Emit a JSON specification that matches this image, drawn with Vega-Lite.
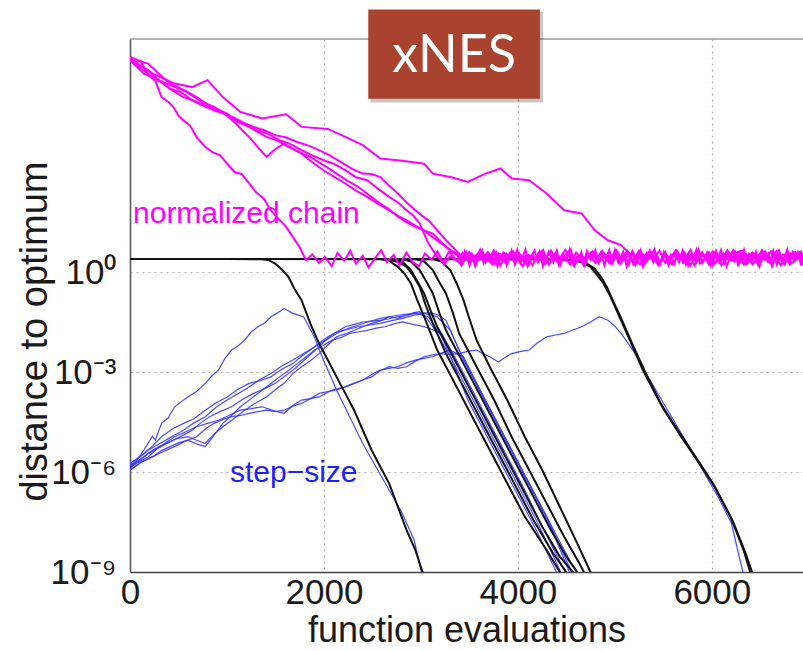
{
"$schema": "https://vega.github.io/schema/vega-lite/v6.json",
"width": 673, "height": 533,
"autosize": {"type": "none"},
"padding": {"left": 130, "top": 39, "right": 0, "bottom": 79},
"background": "white",
"config": {"view": {"stroke": null}, "axis": {"labelFont": "Liberation Sans", "titleFont": "Liberation Sans"}},
"datasets": {
"blu": [
{"s":"b1","x":0,"y":1.45e-6},{"s":"b1","x":70,"y":2.2e-6},{"s":"b1","x":144,"y":4.6e-6},{"s":"b1","x":230,"y":1.2e-5},{"s":"b1","x":260,"y":9e-6},{"s":"b1","x":325,"y":2.9e-5},{"s":"b1","x":392,"y":4.2e-5},{"s":"b1","x":460,"y":9.1e-5},{"s":"b1","x":530,"y":1.3e-4},{"s":"b1","x":596,"y":1.8e-4},{"s":"b1","x":686,"y":2.6e-4},{"s":"b1","x":776,"y":4.6e-4},{"s":"b1","x":840,"y":7.5e-4},{"s":"b1","x":912,"y":1.15e-3},{"s":"b1","x":980,"y":2.6e-3},{"s":"b1","x":1047,"y":4.6e-3},{"s":"b1","x":1110,"y":6e-3},{"s":"b1","x":1182,"y":9.1e-3},{"s":"b1","x":1250,"y":0.016},{"s":"b1","x":1318,"y":0.023},{"s":"b1","x":1390,"y":0.03},{"s":"b1","x":1453,"y":0.046},{"s":"b1","x":1520,"y":0.06},{"s":"b1","x":1589,"y":0.081},{"s":"b1","x":1630,"y":0.07},{"s":"b1","x":1679,"y":0.058},{"s":"b1","x":1790,"y":0.046},{"s":"b1","x":1900,"y":0.0115},{"s":"b1","x":1995,"y":2.3e-3},{"s":"b1","x":2130,"y":2.9e-4},{"s":"b1","x":2265,"y":4.6e-5},{"s":"b1","x":2400,"y":7.2e-6},{"s":"b1","x":2536,"y":1.45e-6},{"s":"b1","x":2672,"y":2.9e-7},{"s":"b1","x":2807,"y":5.8e-8},{"s":"b1","x":2930,"y":9.1e-9},{"s":"b1","x":3000,"y":1.15e-9},{"s":"b1","x":3033,"y":5.8e-10},
{"s":"b2","x":0,"y":1.8e-6},{"s":"b2","x":144,"y":3.6e-6},{"s":"b2","x":230,"y":6e-6},{"s":"b2","x":325,"y":1.15e-5},{"s":"b2","x":440,"y":2.0e-5},{"s":"b2","x":551,"y":2.9e-5},{"s":"b2","x":660,"y":4.0e-5},{"s":"b2","x":776,"y":7.2e-5},{"s":"b2","x":890,"y":1.2e-4},{"s":"b2","x":1002,"y":1.8e-4},{"s":"b2","x":1110,"y":3.0e-4},{"s":"b2","x":1228,"y":4.6e-4},{"s":"b2","x":1340,"y":5.5e-4},{"s":"b2","x":1453,"y":7.2e-4},{"s":"b2","x":1560,"y":1.2e-3},{"s":"b2","x":1679,"y":1.8e-3},{"s":"b2","x":1770,"y":3.0e-3},{"s":"b2","x":1859,"y":4.6e-3},{"s":"b2","x":1950,"y":7.5e-3},{"s":"b2","x":2040,"y":0.0115},{"s":"b2","x":2130,"y":0.016},{"s":"b2","x":2220,"y":0.023},{"s":"b2","x":2311,"y":0.027},{"s":"b2","x":2401,"y":0.032},{"s":"b2","x":2491,"y":0.034},{"s":"b2","x":2581,"y":0.036},{"s":"b2","x":2672,"y":0.04},{"s":"b2","x":2762,"y":0.046},{"s":"b2","x":2852,"y":0.05},{"s":"b2","x":2942,"y":0.058},{"s":"b2","x":3078,"y":0.046},{"s":"b2","x":3213,"y":0.0115},{"s":"b2","x":3349,"y":1.45e-3},{"s":"b2","x":3484,"y":1.45e-4},{"s":"b2","x":3665,"y":1.45e-5},{"s":"b2","x":3845,"y":1.45e-6},{"s":"b2","x":4026,"y":1.45e-7},{"s":"b2","x":4206,"y":1.45e-8},{"s":"b2","x":4387,"y":1.15e-9},{"s":"b2","x":4420,"y":7e-10},
{"s":"b3","x":0,"y":1.45e-6},{"s":"b3","x":190,"y":2.9e-6},{"s":"b3","x":280,"y":5e-6},{"s":"b3","x":370,"y":7.2e-6},{"s":"b3","x":480,"y":1.0e-5},{"s":"b3","x":596,"y":1.15e-5},{"s":"b3","x":686,"y":9e-6},{"s":"b3","x":776,"y":7.2e-6},{"s":"b3","x":870,"y":1.4e-5},{"s":"b3","x":957,"y":2.3e-5},{"s":"b3","x":1070,"y":4.0e-5},{"s":"b3","x":1182,"y":7.2e-5},{"s":"b3","x":1300,"y":1.2e-4},{"s":"b3","x":1408,"y":1.8e-4},{"s":"b3","x":1500,"y":3.0e-4},{"s":"b3","x":1589,"y":4.6e-4},{"s":"b3","x":1680,"y":9e-4},{"s":"b3","x":1769,"y":1.45e-3},{"s":"b3","x":1860,"y":2.2e-3},{"s":"b3","x":1950,"y":3.6e-3},{"s":"b3","x":2040,"y":6.5e-3},{"s":"b3","x":2130,"y":0.0115},{"s":"b3","x":2220,"y":0.014},{"s":"b3","x":2311,"y":0.018},{"s":"b3","x":2400,"y":0.023},{"s":"b3","x":2491,"y":0.029},{"s":"b3","x":2580,"y":0.034},{"s":"b3","x":2672,"y":0.046},{"s":"b3","x":2760,"y":0.042},{"s":"b3","x":2852,"y":0.051},{"s":"b3","x":2920,"y":0.06},{"s":"b3","x":2988,"y":0.065},{"s":"b3","x":3050,"y":0.045},{"s":"b3","x":3123,"y":0.023},{"s":"b3","x":3303,"y":2.9e-3},{"s":"b3","x":3484,"y":2.9e-4},{"s":"b3","x":3665,"y":2.9e-5},{"s":"b3","x":3845,"y":2.9e-6},{"s":"b3","x":4026,"y":2.9e-7},{"s":"b3","x":4206,"y":2.9e-8},{"s":"b3","x":4432,"y":1.15e-9},{"s":"b3","x":4460,"y":7e-10},
{"s":"b4","x":0,"y":1.15e-6},{"s":"b4","x":120,"y":2.0e-6},{"s":"b4","x":235,"y":2.9e-6},{"s":"b4","x":325,"y":4.4e-6},{"s":"b4","x":415,"y":5.8e-6},{"s":"b4","x":500,"y":7.5e-6},{"s":"b4","x":596,"y":9.1e-6},{"s":"b4","x":686,"y":7e-6},{"s":"b4","x":776,"y":5.8e-6},{"s":"b4","x":870,"y":1.3e-5},{"s":"b4","x":957,"y":2.9e-5},{"s":"b4","x":1047,"y":5e-5},{"s":"b4","x":1137,"y":9.1e-5},{"s":"b4","x":1250,"y":1.6e-4},{"s":"b4","x":1363,"y":2.9e-4},{"s":"b4","x":1450,"y":4.5e-4},{"s":"b4","x":1543,"y":7.2e-4},{"s":"b4","x":1630,"y":1.1e-3},{"s":"b4","x":1724,"y":1.8e-3},{"s":"b4","x":1810,"y":2.8e-3},{"s":"b4","x":1905,"y":4.6e-3},{"s":"b4","x":2000,"y":6.5e-3},{"s":"b4","x":2085,"y":9.1e-3},{"s":"b4","x":2180,"y":0.011},{"s":"b4","x":2266,"y":0.0145},{"s":"b4","x":2350,"y":0.016},{"s":"b4","x":2446,"y":0.018},{"s":"b4","x":2540,"y":0.021},{"s":"b4","x":2627,"y":0.023},{"s":"b4","x":2720,"y":0.028},{"s":"b4","x":2807,"y":0.032},{"s":"b4","x":2920,"y":0.027},{"s":"b4","x":3033,"y":0.023},{"s":"b4","x":3120,"y":0.019},{"s":"b4","x":3213,"y":0.0145},{"s":"b4","x":3349,"y":2.9e-3},{"s":"b4","x":3529,"y":2.9e-4},{"s":"b4","x":3710,"y":2.9e-5},{"s":"b4","x":3890,"y":2.9e-6},{"s":"b4","x":4071,"y":2.9e-7},{"s":"b4","x":4251,"y":2.3e-8},{"s":"b4","x":4477,"y":1.15e-9},{"s":"b4","x":4500,"y":7e-10},
{"s":"b5","x":0,"y":1.45e-6},{"s":"b5","x":120,"y":2.6e-6},{"s":"b5","x":235,"y":4.6e-6},{"s":"b5","x":350,"y":7e-6},{"s":"b5","x":460,"y":1.15e-5},{"s":"b5","x":570,"y":1.6e-5},{"s":"b5","x":686,"y":2.3e-5},{"s":"b5","x":800,"y":2.9e-5},{"s":"b5","x":912,"y":3.6e-5},{"s":"b5","x":1020,"y":5.0e-5},{"s":"b5","x":1137,"y":7.2e-5},{"s":"b5","x":1250,"y":8.0e-5},{"s":"b5","x":1363,"y":9.1e-5},{"s":"b5","x":1480,"y":7.0e-5},{"s":"b5","x":1589,"y":5.8e-5},{"s":"b5","x":1680,"y":1.0e-4},{"s":"b5","x":1769,"y":1.45e-4},{"s":"b5","x":1860,"y":1.6e-4},{"s":"b5","x":1950,"y":1.8e-4},{"s":"b5","x":2085,"y":2.9e-4},{"s":"b5","x":2220,"y":3.6e-4},{"s":"b5","x":2311,"y":4.6e-4},{"s":"b5","x":2401,"y":5.8e-4},{"s":"b5","x":2491,"y":8.5e-4},{"s":"b5","x":2581,"y":1.15e-3},{"s":"b5","x":2672,"y":1.3e-3},{"s":"b5","x":2762,"y":1.45e-3},{"s":"b5","x":2850,"y":1.9e-3},{"s":"b5","x":2942,"y":2.3e-3},{"s":"b5","x":3030,"y":2.6e-3},{"s":"b5","x":3123,"y":2.9e-3},{"s":"b5","x":3213,"y":3.8e-3},{"s":"b5","x":3303,"y":4.6e-3},{"s":"b5","x":3370,"y":3.6e-3},{"s":"b5","x":3439,"y":2.9e-3},{"s":"b5","x":3574,"y":4.6e-4},{"s":"b5","x":3755,"y":4.6e-5},{"s":"b5","x":3935,"y":4.6e-6},{"s":"b5","x":4116,"y":4.6e-7},{"s":"b5","x":4296,"y":4.6e-8},{"s":"b5","x":4522,"y":1.15e-9},{"s":"b5","x":4550,"y":7e-10},
{"s":"b6","x":0,"y":1.15e-6},{"s":"b6","x":120,"y":2.0e-6},{"s":"b6","x":235,"y":2.9e-6},{"s":"b6","x":350,"y":4.2e-6},{"s":"b6","x":460,"y":5.8e-6},{"s":"b6","x":570,"y":8.5e-6},{"s":"b6","x":686,"y":1.15e-5},{"s":"b6","x":780,"y":2.0e-5},{"s":"b6","x":866,"y":2.9e-5},{"s":"b6","x":960,"y":3.8e-5},{"s":"b6","x":1047,"y":4.6e-5},{"s":"b6","x":1140,"y":5.0e-5},{"s":"b6","x":1228,"y":5.8e-5},{"s":"b6","x":1320,"y":6.5e-5},{"s":"b6","x":1408,"y":7.2e-5},{"s":"b6","x":1500,"y":6.5e-5},{"s":"b6","x":1589,"y":7.2e-5},{"s":"b6","x":1680,"y":9.5e-5},{"s":"b6","x":1769,"y":1.15e-4},{"s":"b6","x":1860,"y":1.6e-4},{"s":"b6","x":1950,"y":2.3e-4},{"s":"b6","x":2040,"y":2.6e-4},{"s":"b6","x":2130,"y":2.9e-4},{"s":"b6","x":2220,"y":3.6e-4},{"s":"b6","x":2311,"y":4.6e-4},{"s":"b6","x":2400,"y":5.8e-4},{"s":"b6","x":2491,"y":7.2e-4},{"s":"b6","x":2580,"y":1.1e-3},{"s":"b6","x":2672,"y":1.45e-3},{"s":"b6","x":2760,"y":1.3e-3},{"s":"b6","x":2852,"y":1.45e-3},{"s":"b6","x":2940,"y":2.1e-3},{"s":"b6","x":3033,"y":2.9e-3},{"s":"b6","x":3120,"y":3.3e-3},{"s":"b6","x":3213,"y":3.6e-3},{"s":"b6","x":3300,"y":3.4e-3},{"s":"b6","x":3394,"y":3.6e-3},{"s":"b6","x":3480,"y":4.2e-3},{"s":"b6","x":3574,"y":4.6e-3},{"s":"b6","x":3640,"y":3.6e-3},{"s":"b6","x":3710,"y":2.9e-3},{"s":"b6","x":3800,"y":2.0e-3},{"s":"b6","x":3870,"y":2.8e-3},{"s":"b6","x":3935,"y":3.6e-3},{"s":"b6","x":4030,"y":4.2e-3},{"s":"b6","x":4116,"y":4.6e-3},{"s":"b6","x":4200,"y":7.5e-3},{"s":"b6","x":4296,"y":0.0115},{"s":"b6","x":4390,"y":0.013},{"s":"b6","x":4477,"y":0.0145},{"s":"b6","x":4560,"y":0.018},{"s":"b6","x":4657,"y":0.023},{"s":"b6","x":4750,"y":0.032},{"s":"b6","x":4838,"y":0.046},{"s":"b6","x":4928,"y":0.036},{"s":"b6","x":5000,"y":0.024},{"s":"b6","x":5064,"y":0.0145},{"s":"b6","x":5199,"y":4e-3},{"s":"b6","x":5334,"y":8e-4},{"s":"b6","x":5515,"y":1e-4},{"s":"b6","x":5695,"y":1.3e-5},{"s":"b6","x":5876,"y":1.6e-6},{"s":"b6","x":6056,"y":2e-7},{"s":"b6","x":6200,"y":3e-8},{"s":"b6","x":6320,"y":1e-9},{"s":"b6","x":6345,"y":5e-10},
{"s":"b7","x":0,"y":1.6e-6},{"s":"b7","x":100,"y":2.8e-6},{"s":"b7","x":190,"y":4.6e-6},{"s":"b7","x":280,"y":6.5e-6},{"s":"b7","x":370,"y":9.1e-6},{"s":"b7","x":460,"y":1.3e-5},{"s":"b7","x":551,"y":1.8e-5},{"s":"b7","x":660,"y":3.0e-5},{"s":"b7","x":776,"y":4.6e-5},{"s":"b7","x":890,"y":9e-5},{"s":"b7","x":1002,"y":1.45e-4},{"s":"b7","x":1110,"y":2.2e-4},{"s":"b7","x":1228,"y":3.6e-4},{"s":"b7","x":1340,"y":6e-4},{"s":"b7","x":1453,"y":9.1e-4},{"s":"b7","x":1560,"y":1.5e-3},{"s":"b7","x":1679,"y":2.3e-3},{"s":"b7","x":1790,"y":3.6e-3},{"s":"b7","x":1905,"y":5.8e-3},{"s":"b7","x":2020,"y":9e-3},{"s":"b7","x":2130,"y":0.0145},{"s":"b7","x":2240,"y":0.02},{"s":"b7","x":2356,"y":0.026},{"s":"b7","x":2470,"y":0.033},{"s":"b7","x":2581,"y":0.041},{"s":"b7","x":2672,"y":0.046},{"s":"b7","x":2762,"y":0.051},{"s":"b7","x":2852,"y":0.055},{"s":"b7","x":2942,"y":0.058},{"s":"b7","x":3030,"y":0.06},{"s":"b7","x":3123,"y":0.058},{"s":"b7","x":3190,"y":0.05},{"s":"b7","x":3258,"y":0.036},{"s":"b7","x":3394,"y":4.6e-3},{"s":"b7","x":3574,"y":4.6e-4},{"s":"b7","x":3755,"y":4.6e-5},{"s":"b7","x":3935,"y":4.6e-6},{"s":"b7","x":4116,"y":4.6e-7},{"s":"b7","x":4296,"y":4.6e-8},{"s":"b7","x":4477,"y":4.6e-9},{"s":"b7","x":4590,"y":1.15e-9},{"s":"b7","x":4620,"y":7e-10},
{"s":"b8","x":0,"y":1.3e-6},{"s":"b8","x":190,"y":3.6e-6},{"s":"b8","x":300,"y":5.5e-6},{"s":"b8","x":415,"y":8.1e-6},{"s":"b8","x":530,"y":1.2e-5},{"s":"b8","x":641,"y":1.8e-5},{"s":"b8","x":730,"y":3.0e-5},{"s":"b8","x":821,"y":4.6e-5},{"s":"b8","x":930,"y":6.5e-5},{"s":"b8","x":1047,"y":9.1e-5},{"s":"b8","x":1160,"y":1.5e-4},{"s":"b8","x":1273,"y":2.3e-4},{"s":"b8","x":1390,"y":3.2e-4},{"s":"b8","x":1498,"y":4.6e-4},{"s":"b8","x":1610,"y":8e-4},{"s":"b8","x":1724,"y":1.45e-3},{"s":"b8","x":1840,"y":3e-3},{"s":"b8","x":1950,"y":5.8e-3},{"s":"b8","x":2040,"y":0.0105},{"s":"b8","x":2130,"y":0.016},{"s":"b8","x":2240,"y":0.019},{"s":"b8","x":2356,"y":0.023},{"s":"b8","x":2470,"y":0.026},{"s":"b8","x":2581,"y":0.029},{"s":"b8","x":2700,"y":0.035},{"s":"b8","x":2807,"y":0.041},{"s":"b8","x":2920,"y":0.05},{"s":"b8","x":3033,"y":0.058},{"s":"b8","x":3100,"y":0.052},{"s":"b8","x":3168,"y":0.046},{"s":"b8","x":3303,"y":0.018},{"s":"b8","x":3439,"y":2.3e-3},{"s":"b8","x":3620,"y":2.3e-4},{"s":"b8","x":3800,"y":2.3e-5},{"s":"b8","x":3980,"y":2.3e-6},{"s":"b8","x":4161,"y":2.3e-7},{"s":"b8","x":4341,"y":2.3e-8},{"s":"b8","x":4545,"y":1.15e-9},{"s":"b8","x":4570,"y":7e-10}
],
"blk": [
{"s":"k1","x":0,"y":2.5},{"s":"k1","x":1000,"y":2.5},{"s":"k1","x":1363,"y":2.45},{"s":"k1","x":1430,"y":2.3},{"s":"k1","x":1498,"y":1.8},{"s":"k1","x":1566,"y":1.2},{"s":"k1","x":1634,"y":0.72},{"s":"k1","x":1700,"y":0.3},{"s":"k1","x":1769,"y":0.145},{"s":"k1","x":1859,"y":0.029},{"s":"k1","x":1950,"y":7.2e-3},{"s":"k1","x":2040,"y":2.3e-3},{"s":"k1","x":2130,"y":7.2e-4},{"s":"k1","x":2220,"y":2.3e-4},{"s":"k1","x":2311,"y":7.2e-5},{"s":"k1","x":2401,"y":1.8e-5},{"s":"k1","x":2491,"y":4.6e-6},{"s":"k1","x":2581,"y":1.45e-6},{"s":"k1","x":2672,"y":4.6e-7},{"s":"k1","x":2762,"y":9.1e-8},{"s":"k1","x":2852,"y":1.8e-8},{"s":"k1","x":2942,"y":4.6e-9},{"s":"k1","x":3010,"y":1.15e-9},{"s":"k1","x":3040,"y":6e-10},
{"s":"g1","x":0,"y":2.5},{"s":"g1","x":2581,"y":2.48},{"s":"g1","x":2672,"y":2.2},{"s":"g1","x":2762,"y":1.45},{"s":"g1","x":2830,"y":0.9},{"s":"g1","x":2897,"y":0.46},{"s":"g1","x":2960,"y":0.15},{"s":"g1","x":3033,"y":0.046},{"s":"g1","x":3168,"y":4.6e-3},{"s":"g1","x":3349,"y":4.6e-4},{"s":"g1","x":3529,"y":4.6e-5},{"s":"g1","x":3710,"y":4.6e-6},{"s":"g1","x":3890,"y":4.6e-7},{"s":"g1","x":4071,"y":4.6e-8},{"s":"g1","x":4296,"y":4.6e-9},{"s":"g1","x":4432,"y":1e-9},{"s":"g1","x":4460,"y":7e-10},
{"s":"g2","x":0,"y":2.5},{"s":"g2","x":2672,"y":2.48},{"s":"g2","x":2717,"y":2.2},{"s":"g2","x":2790,"y":1.9},{"s":"g2","x":2852,"y":1.45},{"s":"g2","x":2920,"y":0.8},{"s":"g2","x":2988,"y":0.36},{"s":"g2","x":3050,"y":0.1},{"s":"g2","x":3123,"y":0.029},{"s":"g2","x":3258,"y":3.6e-3},{"s":"g2","x":3439,"y":3.6e-4},{"s":"g2","x":3620,"y":3.6e-5},{"s":"g2","x":3800,"y":3.6e-6},{"s":"g2","x":3980,"y":3.6e-7},{"s":"g2","x":4161,"y":3.6e-8},{"s":"g2","x":4364,"y":3.6e-9},{"s":"g2","x":4499,"y":1e-9},{"s":"g2","x":4530,"y":7e-10},
{"s":"g3","x":0,"y":2.5},{"s":"g3","x":2717,"y":2.48},{"s":"g3","x":2807,"y":2.1},{"s":"g3","x":2897,"y":1.15},{"s":"g3","x":2960,"y":0.55},{"s":"g3","x":3033,"y":0.23},{"s":"g3","x":3100,"y":0.07},{"s":"g3","x":3168,"y":0.023},{"s":"g3","x":3349,"y":2.3e-3},{"s":"g3","x":3529,"y":2.3e-4},{"s":"g3","x":3710,"y":2.3e-5},{"s":"g3","x":3890,"y":2.3e-6},{"s":"g3","x":4071,"y":2.3e-7},{"s":"g3","x":4251,"y":2.3e-8},{"s":"g3","x":4432,"y":2.9e-9},{"s":"g3","x":4567,"y":1e-9},{"s":"g3","x":4590,"y":7e-10},
{"s":"g4","x":0,"y":2.5},{"s":"g4","x":2807,"y":2.48},{"s":"g4","x":2897,"y":2.1},{"s":"g4","x":2988,"y":1.15},{"s":"g4","x":3060,"y":0.5},{"s":"g4","x":3123,"y":0.23},{"s":"g4","x":3190,"y":0.06},{"s":"g4","x":3258,"y":0.018},{"s":"g4","x":3439,"y":1.8e-3},{"s":"g4","x":3620,"y":1.8e-4},{"s":"g4","x":3800,"y":1.8e-5},{"s":"g4","x":3980,"y":1.8e-6},{"s":"g4","x":4161,"y":1.8e-7},{"s":"g4","x":4341,"y":1.8e-8},{"s":"g4","x":4522,"y":2.3e-9},{"s":"g4","x":4612,"y":1e-9},{"s":"g4","x":4640,"y":7e-10},
{"s":"g5","x":0,"y":2.5},{"s":"g5","x":2942,"y":2.48},{"s":"g5","x":3033,"y":2.1},{"s":"g5","x":3123,"y":1.15},{"s":"g5","x":3190,"y":0.5},{"s":"g5","x":3258,"y":0.23},{"s":"g5","x":3330,"y":0.06},{"s":"g5","x":3394,"y":0.0145},{"s":"g5","x":3574,"y":1.45e-3},{"s":"g5","x":3755,"y":1.45e-4},{"s":"g5","x":3935,"y":1.15e-5},{"s":"g5","x":4116,"y":1.15e-6},{"s":"g5","x":4296,"y":1.15e-7},{"s":"g5","x":4477,"y":1.15e-8},{"s":"g5","x":4635,"y":1.8e-9},{"s":"g5","x":4680,"y":1e-9},{"s":"g5","x":4710,"y":7e-10},
{"s":"g6","x":0,"y":2.5},{"s":"g6","x":3123,"y":2.48},{"s":"g6","x":3213,"y":2.1},{"s":"g6","x":3303,"y":1.15},{"s":"g6","x":3370,"y":0.45},{"s":"g6","x":3439,"y":0.145},{"s":"g6","x":3500,"y":0.04},{"s":"g6","x":3574,"y":9.1e-3},{"s":"g6","x":3710,"y":1.45e-3},{"s":"g6","x":3890,"y":1.45e-4},{"s":"g6","x":4071,"y":1.15e-5},{"s":"g6","x":4251,"y":1.15e-6},{"s":"g6","x":4432,"y":9.1e-8},{"s":"g6","x":4612,"y":7.2e-9},{"s":"g6","x":4748,"y":1e-9},{"s":"g6","x":4770,"y":7e-10},
{"s":"l1","x":0,"y":2.5},{"s":"l1","x":4387,"y":2.45},{"s":"l1","x":4480,"y":2.35},{"s":"l1","x":4567,"y":2.3},{"s":"l1","x":4660,"y":2.0},{"s":"l1","x":4748,"y":1.45},{"s":"l1","x":4820,"y":0.8},{"s":"l1","x":4883,"y":0.46},{"s":"l1","x":4950,"y":0.2},{"s":"l1","x":5018,"y":0.072},{"s":"l1","x":5154,"y":9.1e-3},{"s":"l1","x":5289,"y":1.15e-3},{"s":"l1","x":5470,"y":1.15e-4},{"s":"l1","x":5650,"y":1.8e-5},{"s":"l1","x":5831,"y":2.9e-6},{"s":"l1","x":6011,"y":4.6e-7},{"s":"l1","x":6192,"y":4.6e-8},{"s":"l1","x":6327,"y":4.6e-9},{"s":"l1","x":6395,"y":1e-9},{"s":"l1","x":6420,"y":7e-10},
{"s":"l2","x":0,"y":2.5},{"s":"l2","x":4420,"y":2.45},{"s":"l2","x":4600,"y":2.25},{"s":"l2","x":4700,"y":1.9},{"s":"l2","x":4790,"y":1.3},{"s":"l2","x":4860,"y":0.7},{"s":"l2","x":4920,"y":0.35},{"s":"l2","x":4990,"y":0.12},{"s":"l2","x":5060,"y":0.045},{"s":"l2","x":5190,"y":6e-3},{"s":"l2","x":5330,"y":8e-4},{"s":"l2","x":5500,"y":8e-5},{"s":"l2","x":5680,"y":1.2e-5},{"s":"l2","x":5860,"y":2.0e-6},{"s":"l2","x":6040,"y":3.2e-7},{"s":"l2","x":6220,"y":3.2e-8},{"s":"l2","x":6350,"y":3.5e-9},{"s":"l2","x":6420,"y":9e-10}
],
"mag": [
{"s":"m1","x":0,"y":2.6e6},{"s":"m1","x":60,"y":2.0e6},{"s":"m1","x":110,"y":2.2e6},{"s":"m1","x":144,"y":1.4e6},{"s":"m1","x":200,"y":7.9e5},{"s":"m1","x":260,"y":5.6e5},{"s":"m1","x":325,"y":1.8e5},{"s":"m1","x":400,"y":1.26e5},{"s":"m1","x":450,"y":8.9e4},{"s":"m1","x":500,"y":5.0e4},{"s":"m1","x":551,"y":3.6e4},{"s":"m1","x":620,"y":2.5e4},{"s":"m1","x":690,"y":1.1e4},{"s":"m1","x":776,"y":5.8e3},{"s":"m1","x":850,"y":4.0e3},{"s":"m1","x":930,"y":3.2e3},{"s":"m1","x":1002,"y":1.8e3},{"s":"m1","x":1080,"y":1.0e3},{"s":"m1","x":1150,"y":890},{"s":"m1","x":1228,"y":460},{"s":"m1","x":1300,"y":250},{"s":"m1","x":1380,"y":160},{"s":"m1","x":1453,"y":72},{"s":"m1","x":1530,"y":40},{"s":"m1","x":1600,"y":25},{"s":"m1","x":1679,"y":11.5},{"s":"m1","x":1750,"y":5.6},{"s":"m1","x":1814,"y":2.3},
{"s":"m1","x":1880,"y":3.4},{"s":"m1","x":1950,"y":1.9},{"s":"m1","x":2010,"y":2.9},{"s":"m1","x":2080,"y":1.5},{"s":"m1","x":2140,"y":3.8},{"s":"m1","x":2210,"y":2.2},{"s":"m1","x":2270,"y":4.4},{"s":"m1","x":2330,"y":1.8},{"s":"m1","x":2400,"y":3.1},{"s":"m1","x":2460,"y":1.4},{"s":"m1","x":2530,"y":2.7},{"s":"m1","x":2590,"y":4.6},{"s":"m1","x":2650,"y":2.0},{"s":"m1","x":2720,"y":3.3},{"s":"m1","x":2780,"y":1.6},{"s":"m1","x":2850,"y":3.9},{"s":"m1","x":2910,"y":2.1},{"s":"m1","x":2980,"y":1.5},{"s":"m1","x":3040,"y":3.6},{"s":"m1","x":3110,"y":2.4},{"s":"m1","x":3170,"y":4.2},{"s":"m1","x":3240,"y":1.7},{"s":"m1","x":3300,"y":3.0},{"s":"m1","x":3370,"y":2.2},{"s":"m1","x":3430,"y":3.8},{"s":"m1","x":3500,"y":1.9},{"s":"m1","x":3560,"y":3.2},{"s":"m1","x":3630,"y":2.5},{"s":"m1","x":3690,"y":4.0},{"s":"m1","x":3760,"y":1.8},{"s":"m1","x":3820,"y":3.5},{"s":"m1","x":3890,"y":2.3},{"s":"m1","x":3950,"y":4.3},{"s":"m1","x":4020,"y":2.0},{"s":"m1","x":4080,"y":3.1},{"s":"m1","x":4150,"y":1.6},{"s":"m1","x":4210,"y":3.7},{"s":"m1","x":4280,"y":2.4},{"s":"m1","x":4340,"y":4.5},{"s":"m1","x":4410,"y":2.0},{"s":"m1","x":4470,"y":3.3},{"s":"m1","x":4540,"y":1.7},{"s":"m1","x":4600,"y":3.9},{"s":"m1","x":4670,"y":2.2},{"s":"m1","x":4730,"y":3.5},{"s":"m1","x":4800,"y":1.9},{"s":"m1","x":4860,"y":4.1},{"s":"m1","x":4930,"y":2.6},{"s":"m1","x":4990,"y":3.4},{"s":"m1","x":5060,"y":1.8},{"s":"m1","x":5120,"y":3.8},{"s":"m1","x":5190,"y":2.3},{"s":"m1","x":5250,"y":4.4},{"s":"m1","x":5320,"y":2.0},{"s":"m1","x":5380,"y":3.2},{"s":"m1","x":5450,"y":1.6},{"s":"m1","x":5510,"y":3.6},{"s":"m1","x":5580,"y":2.5},{"s":"m1","x":5640,"y":4.2},{"s":"m1","x":5710,"y":1.9},{"s":"m1","x":5770,"y":3.4},{"s":"m1","x":5840,"y":2.2},{"s":"m1","x":5900,"y":4.0},{"s":"m1","x":5970,"y":1.7},{"s":"m1","x":6030,"y":3.3},{"s":"m1","x":6100,"y":2.4},{"s":"m1","x":6160,"y":4.6},{"s":"m1","x":6230,"y":2.1},{"s":"m1","x":6290,"y":3.5},{"s":"m1","x":6360,"y":1.8},{"s":"m1","x":6420,"y":3.9},{"s":"m1","x":6490,"y":2.3},{"s":"m1","x":6550,"y":4.2},{"s":"m1","x":6620,"y":2.0},{"s":"m1","x":6680,"y":3.1},{"s":"m1","x":6750,"y":1.7},{"s":"m1","x":6810,"y":3.7},{"s":"m1","x":6880,"y":2.5},{"s":"m1","x":6940,"y":3.6},
{"s":"m2","x":0,"y":2.6e6},{"s":"m2","x":100,"y":1.6e6},{"s":"m2","x":190,"y":1.15e6},{"s":"m2","x":300,"y":5.6e5},{"s":"m2","x":415,"y":3.2e5},{"s":"m2","x":530,"y":2.5e5},{"s":"m2","x":641,"y":1.45e5},{"s":"m2","x":750,"y":1.0e5},{"s":"m2","x":866,"y":7.2e4},{"s":"m2","x":980,"y":5.6e4},{"s":"m2","x":1092,"y":4.1e4},{"s":"m2","x":1200,"y":2.5e4},{"s":"m2","x":1318,"y":1.8e4},{"s":"m2","x":1430,"y":1.4e4},{"s":"m2","x":1543,"y":9.1e3},{"s":"m2","x":1650,"y":7.1e3},{"s":"m2","x":1769,"y":4.6e3},{"s":"m2","x":1880,"y":3.2e3},{"s":"m2","x":1995,"y":2.3e3},{"s":"m2","x":2100,"y":1.8e3},{"s":"m2","x":2220,"y":1.15e3},{"s":"m2","x":2330,"y":710},{"s":"m2","x":2446,"y":575},{"s":"m2","x":2560,"y":316},{"s":"m2","x":2672,"y":182},{"s":"m2","x":2760,"y":126},{"s":"m2","x":2852,"y":72},{"s":"m2","x":2920,"y":50},{"s":"m2","x":2988,"y":29},{"s":"m2","x":3040,"y":12.6},{"s":"m2","x":3078,"y":7.2},{"s":"m2","x":3168,"y":2.9},
{"s":"m2","x":3230,"y":2.0},{"s":"m2","x":3290,"y":4.1},{"s":"m2","x":3350,"y":2.6},{"s":"m2","x":3420,"y":1.6},{"s":"m2","x":3480,"y":3.4},{"s":"m2","x":3540,"y":2.2},{"s":"m2","x":3610,"y":4.6},{"s":"m2","x":3670,"y":2.8},{"s":"m2","x":3730,"y":1.8},{"s":"m2","x":3800,"y":3.6},{"s":"m2","x":3860,"y":2.1},{"s":"m2","x":3920,"y":3.9},{"s":"m2","x":3990,"y":2.7},{"s":"m2","x":4050,"y":1.5},{"s":"m2","x":4110,"y":3.3},{"s":"m2","x":4180,"y":2.4},{"s":"m2","x":4240,"y":4.2},{"s":"m2","x":4300,"y":1.9},{"s":"m2","x":4370,"y":3.5},{"s":"m2","x":4430,"y":2.6},{"s":"m2","x":4490,"y":4.7},{"s":"m2","x":4560,"y":2.1},{"s":"m2","x":4620,"y":3.0},{"s":"m2","x":4680,"y":1.6},{"s":"m2","x":4750,"y":3.8},{"s":"m2","x":4810,"y":2.4},{"s":"m2","x":4870,"y":4.3},{"s":"m2","x":4940,"y":1.9},{"s":"m2","x":5000,"y":3.2},{"s":"m2","x":5060,"y":2.6},{"s":"m2","x":5130,"y":4.4},{"s":"m2","x":5190,"y":1.7},{"s":"m2","x":5250,"y":3.6},{"s":"m2","x":5320,"y":2.4},{"s":"m2","x":5380,"y":3.9},{"s":"m2","x":5440,"y":1.8},{"s":"m2","x":5510,"y":3.1},{"s":"m2","x":5570,"y":2.7},{"s":"m2","x":5630,"y":4.6},{"s":"m2","x":5700,"y":2.0},{"s":"m2","x":5760,"y":3.7},{"s":"m2","x":5820,"y":1.6},{"s":"m2","x":5890,"y":3.3},{"s":"m2","x":5950,"y":2.5},{"s":"m2","x":6010,"y":4.2},{"s":"m2","x":6080,"y":1.9},{"s":"m2","x":6140,"y":3.5},{"s":"m2","x":6200,"y":2.3},{"s":"m2","x":6270,"y":4.1},{"s":"m2","x":6330,"y":1.7},{"s":"m2","x":6390,"y":3.4},{"s":"m2","x":6460,"y":2.6},{"s":"m2","x":6520,"y":4.5},{"s":"m2","x":6580,"y":2.0},{"s":"m2","x":6650,"y":3.2},{"s":"m2","x":6710,"y":1.6},{"s":"m2","x":6770,"y":3.8},{"s":"m2","x":6840,"y":2.4},{"s":"m2","x":6900,"y":4.0},{"s":"m2","x":6940,"y":2.7},
{"s":"m3","x":0,"y":2.3e6},{"s":"m3","x":144,"y":9.1e5},{"s":"m3","x":230,"y":7.1e5},{"s":"m3","x":325,"y":5.1e5},{"s":"m3","x":440,"y":2.8e5},{"s":"m3","x":551,"y":1.8e5},{"s":"m3","x":660,"y":1.4e5},{"s":"m3","x":776,"y":1.0e5},{"s":"m3","x":890,"y":7.9e4},{"s":"m3","x":1002,"y":5.8e4},{"s":"m3","x":1110,"y":3.2e4},{"s":"m3","x":1228,"y":2.3e4},{"s":"m3","x":1320,"y":1.6e4},{"s":"m3","x":1408,"y":1.15e4},{"s":"m3","x":1520,"y":8.9e3},{"s":"m3","x":1634,"y":5.8e3},{"s":"m3","x":1750,"y":4.0e3},{"s":"m3","x":1859,"y":2.9e3},{"s":"m3","x":2000,"y":1.6e3},{"s":"m3","x":2130,"y":910},{"s":"m3","x":2240,"y":560},{"s":"m3","x":2356,"y":360},{"s":"m3","x":2470,"y":200},{"s":"m3","x":2581,"y":115},{"s":"m3","x":2670,"y":79},{"s":"m3","x":2762,"y":46},{"s":"m3","x":2850,"y":32},{"s":"m3","x":2942,"y":23},{"s":"m3","x":3030,"y":18},{"s":"m3","x":3123,"y":14.5},{"s":"m3","x":3210,"y":7.9},{"s":"m3","x":3303,"y":4.6},{"s":"m3","x":3439,"y":2.9},
{"s":"m3","x":3500,"y":4.0},{"s":"m3","x":3560,"y":1.8},{"s":"m3","x":3630,"y":3.3},{"s":"m3","x":3690,"y":2.2},{"s":"m3","x":3750,"y":4.4},{"s":"m3","x":3820,"y":1.6},{"s":"m3","x":3880,"y":3.6},{"s":"m3","x":3940,"y":2.5},{"s":"m3","x":4010,"y":3.9},{"s":"m3","x":4070,"y":1.9},{"s":"m3","x":4130,"y":3.1},{"s":"m3","x":4200,"y":2.3},{"s":"m3","x":4260,"y":4.6},{"s":"m3","x":4320,"y":1.7},{"s":"m3","x":4390,"y":3.4},{"s":"m3","x":4450,"y":2.4},{"s":"m3","x":4510,"y":3.8},{"s":"m3","x":4580,"y":1.5},{"s":"m3","x":4640,"y":3.2},{"s":"m3","x":4700,"y":2.6},{"s":"m3","x":4770,"y":4.2},{"s":"m3","x":4830,"y":2.0},{"s":"m3","x":4890,"y":3.6},{"s":"m3","x":4960,"y":1.8},{"s":"m3","x":5020,"y":4.5},{"s":"m3","x":5080,"y":2.2},{"s":"m3","x":5150,"y":3.3},{"s":"m3","x":5210,"y":1.6},{"s":"m3","x":5270,"y":3.9},{"s":"m3","x":5340,"y":2.5},{"s":"m3","x":5400,"y":4.3},{"s":"m3","x":5460,"y":2.0},{"s":"m3","x":5530,"y":3.5},{"s":"m3","x":5590,"y":1.7},{"s":"m3","x":5650,"y":3.1},{"s":"m3","x":5720,"y":2.4},{"s":"m3","x":5780,"y":4.7},{"s":"m3","x":5840,"y":1.9},{"s":"m3","x":5910,"y":3.4},{"s":"m3","x":5970,"y":2.6},{"s":"m3","x":6030,"y":4.0},{"s":"m3","x":6100,"y":1.6},{"s":"m3","x":6160,"y":3.2},{"s":"m3","x":6220,"y":2.3},{"s":"m3","x":6290,"y":4.3},{"s":"m3","x":6350,"y":2.0},{"s":"m3","x":6410,"y":3.7},{"s":"m3","x":6480,"y":1.8},{"s":"m3","x":6540,"y":3.3},{"s":"m3","x":6600,"y":2.5},{"s":"m3","x":6670,"y":4.4},{"s":"m3","x":6730,"y":1.9},{"s":"m3","x":6790,"y":3.5},{"s":"m3","x":6860,"y":2.2},{"s":"m3","x":6920,"y":4.1},{"s":"m3","x":6940,"y":3.0},
{"s":"m4","x":0,"y":2.6e6},{"s":"m4","x":120,"y":1.26e6},{"s":"m4","x":235,"y":7.2e5},{"s":"m4","x":350,"y":5.0e5},{"s":"m4","x":460,"y":3.6e5},{"s":"m4","x":570,"y":2.8e5},{"s":"m4","x":686,"y":1.8e5},{"s":"m4","x":800,"y":1.1e5},{"s":"m4","x":912,"y":7.2e4},{"s":"m4","x":1000,"y":5.0e4},{"s":"m4","x":1092,"y":2.9e4},{"s":"m4","x":1160,"y":1.8e4},{"s":"m4","x":1228,"y":1.15e4},{"s":"m4","x":1320,"y":5.6e3},{"s":"m4","x":1408,"y":2.9e3},{"s":"m4","x":1500,"y":5.0e3},{"s":"m4","x":1589,"y":7.2e3},{"s":"m4","x":1680,"y":5.0e3},{"s":"m4","x":1769,"y":3.6e3},{"s":"m4","x":1880,"y":2.0e3},{"s":"m4","x":1995,"y":1.15e3},{"s":"m4","x":2110,"y":710},{"s":"m4","x":2220,"y":460},{"s":"m4","x":2330,"y":280},{"s":"m4","x":2446,"y":182},{"s":"m4","x":2560,"y":112},{"s":"m4","x":2672,"y":72},{"s":"m4","x":2760,"y":50},{"s":"m4","x":2852,"y":36},{"s":"m4","x":2940,"y":25},{"s":"m4","x":3033,"y":18},{"s":"m4","x":3120,"y":11.2},{"s":"m4","x":3213,"y":7.2},{"s":"m4","x":3349,"y":3.6},
{"s":"m4","x":3380,"y":3.1},{"s":"m4","x":3416,"y":1.7},{"s":"m4","x":3452,"y":4.3},{"s":"m4","x":3488,"y":2.4},{"s":"m4","x":3524,"y":3.6},{"s":"m4","x":3560,"y":1.5},{"s":"m4","x":3596,"y":2.8},{"s":"m4","x":3632,"y":4.5},{"s":"m4","x":3668,"y":2.0},{"s":"m4","x":3704,"y":3.3},{"s":"m4","x":3740,"y":1.8},{"s":"m4","x":3776,"y":4.0},{"s":"m4","x":3812,"y":2.6},{"s":"m4","x":3848,"y":3.8},{"s":"m4","x":3884,"y":1.6},{"s":"m4","x":3920,"y":3.4},{"s":"m4","x":3956,"y":2.2},{"s":"m4","x":3992,"y":4.7},{"s":"m4","x":4028,"y":1.9},{"s":"m4","x":4064,"y":2.9},
{"s":"m4","x":4100,"y":1.5},{"s":"m4","x":4136,"y":2.8},{"s":"m4","x":4172,"y":4.5},{"s":"m4","x":4208,"y":2.0},{"s":"m4","x":4244,"y":3.3},{"s":"m4","x":4280,"y":1.8},{"s":"m4","x":4316,"y":4.0},{"s":"m4","x":4352,"y":2.6},{"s":"m4","x":4388,"y":3.8},{"s":"m4","x":4424,"y":1.6},{"s":"m4","x":4460,"y":3.4},{"s":"m4","x":4496,"y":2.2},{"s":"m4","x":4532,"y":4.7},{"s":"m4","x":4568,"y":1.9},{"s":"m4","x":4604,"y":2.9},{"s":"m4","x":4640,"y":3.1},{"s":"m4","x":4676,"y":1.7},{"s":"m4","x":4712,"y":4.3},{"s":"m4","x":4748,"y":2.4},{"s":"m4","x":4784,"y":3.6},
{"s":"m4","x":4820,"y":2.6},{"s":"m4","x":4856,"y":3.8},{"s":"m4","x":4892,"y":1.6},{"s":"m4","x":4928,"y":3.4},{"s":"m4","x":4964,"y":2.2},{"s":"m4","x":5000,"y":4.7},{"s":"m4","x":5036,"y":1.9},{"s":"m4","x":5072,"y":2.9},{"s":"m4","x":5108,"y":3.1},{"s":"m4","x":5144,"y":1.7},{"s":"m4","x":5180,"y":4.3},{"s":"m4","x":5216,"y":2.4},{"s":"m4","x":5252,"y":3.6},{"s":"m4","x":5288,"y":1.5},{"s":"m4","x":5324,"y":2.8},{"s":"m4","x":5360,"y":4.5},{"s":"m4","x":5396,"y":2.0},{"s":"m4","x":5432,"y":3.3},{"s":"m4","x":5468,"y":1.8},{"s":"m4","x":5504,"y":4.0},
{"s":"m4","x":5540,"y":2.0},{"s":"m4","x":5576,"y":3.3},{"s":"m4","x":5612,"y":1.8},{"s":"m4","x":5648,"y":4.0},{"s":"m4","x":5684,"y":2.6},{"s":"m4","x":5720,"y":3.8},{"s":"m4","x":5756,"y":1.6},{"s":"m4","x":5792,"y":3.4},{"s":"m4","x":5828,"y":2.2},{"s":"m4","x":5864,"y":4.7},{"s":"m4","x":5900,"y":1.9},{"s":"m4","x":5936,"y":2.9},{"s":"m4","x":5972,"y":3.1},{"s":"m4","x":6008,"y":1.7},{"s":"m4","x":6044,"y":4.3},{"s":"m4","x":6080,"y":2.4},{"s":"m4","x":6116,"y":3.6},{"s":"m4","x":6152,"y":1.5},{"s":"m4","x":6188,"y":2.8},{"s":"m4","x":6224,"y":4.5},
{"s":"m4","x":6260,"y":3.4},{"s":"m4","x":6296,"y":2.2},{"s":"m4","x":6332,"y":4.7},{"s":"m4","x":6368,"y":1.9},{"s":"m4","x":6404,"y":2.9},{"s":"m4","x":6440,"y":3.1},{"s":"m4","x":6476,"y":1.7},{"s":"m4","x":6512,"y":4.3},{"s":"m4","x":6548,"y":2.4},{"s":"m4","x":6584,"y":3.6},{"s":"m4","x":6620,"y":1.5},{"s":"m4","x":6656,"y":2.8},{"s":"m4","x":6692,"y":4.5},{"s":"m4","x":6728,"y":2.0},{"s":"m4","x":6764,"y":3.3},{"s":"m4","x":6800,"y":1.8},{"s":"m4","x":6836,"y":4.0},{"s":"m4","x":6872,"y":2.6},{"s":"m4","x":6908,"y":3.8},{"s":"m4","x":6940,"y":1.6},
{"s":"m5","x":0,"y":2.9e6},{"s":"m5","x":100,"y":2.2e6},{"s":"m5","x":190,"y":1.8e6},{"s":"m5","x":300,"y":8.9e5},{"s":"m5","x":415,"y":4.6e5},{"s":"m5","x":530,"y":3.2e5},{"s":"m5","x":641,"y":2.0e5},{"s":"m5","x":750,"y":1.26e5},{"s":"m5","x":866,"y":9.1e4},{"s":"m5","x":960,"y":6.3e4},{"s":"m5","x":1047,"y":4.6e4},{"s":"m5","x":1160,"y":3.2e4},{"s":"m5","x":1273,"y":2.3e4},{"s":"m5","x":1390,"y":1.8e4},{"s":"m5","x":1498,"y":1.3e4},{"s":"m5","x":1610,"y":1.1e4},{"s":"m5","x":1724,"y":8.1e3},{"s":"m5","x":1840,"y":6.3e3},{"s":"m5","x":1950,"y":4.6e3},{"s":"m5","x":2060,"y":3.2e3},{"s":"m5","x":2175,"y":2.0e3},{"s":"m5","x":2290,"y":1.26e3},{"s":"m5","x":2401,"y":910},{"s":"m5","x":2490,"y":890},{"s":"m5","x":2581,"y":720},{"s":"m5","x":2670,"y":400},{"s":"m5","x":2762,"y":230},{"s":"m5","x":2850,"y":126},{"s":"m5","x":2942,"y":72},{"s":"m5","x":3010,"y":50},{"s":"m5","x":3078,"y":36},{"s":"m5","x":3170,"y":18},{"s":"m5","x":3258,"y":9.1},{"s":"m5","x":3394,"y":3.6},
{"s":"m5","x":3430,"y":2.1},{"s":"m5","x":3466,"y":3.9},{"s":"m5","x":3502,"y":1.6},{"s":"m5","x":3538,"y":3.2},{"s":"m5","x":3574,"y":2.5},{"s":"m5","x":3610,"y":4.6},{"s":"m5","x":3646,"y":1.9},{"s":"m5","x":3682,"y":3.5},{"s":"m5","x":3718,"y":2.3},{"s":"m5","x":3754,"y":4.1},{"s":"m5","x":3790,"y":1.5},{"s":"m5","x":3826,"y":2.9},{"s":"m5","x":3862,"y":3.7},{"s":"m5","x":3898,"y":2.0},{"s":"m5","x":3934,"y":4.4},{"s":"m5","x":3970,"y":1.7},{"s":"m5","x":4006,"y":3.0},{"s":"m5","x":4042,"y":2.6},{"s":"m5","x":4078,"y":4.8},{"s":"m5","x":4114,"y":1.8},
{"s":"m5","x":4150,"y":3.5},{"s":"m5","x":4186,"y":2.3},{"s":"m5","x":4222,"y":4.1},{"s":"m5","x":4258,"y":1.5},{"s":"m5","x":4294,"y":2.9},{"s":"m5","x":4330,"y":3.7},{"s":"m5","x":4366,"y":2.0},{"s":"m5","x":4402,"y":4.4},{"s":"m5","x":4438,"y":1.7},{"s":"m5","x":4474,"y":3.0},{"s":"m5","x":4510,"y":2.6},{"s":"m5","x":4546,"y":4.8},{"s":"m5","x":4582,"y":1.8},{"s":"m5","x":4618,"y":2.1},{"s":"m5","x":4654,"y":3.9},{"s":"m5","x":4690,"y":1.6},{"s":"m5","x":4726,"y":3.2},{"s":"m5","x":4762,"y":2.5},{"s":"m5","x":4798,"y":4.6},{"s":"m5","x":4834,"y":1.9},
{"s":"m5","x":4870,"y":3.2},{"s":"m5","x":4906,"y":2.5},{"s":"m5","x":4942,"y":4.6},{"s":"m5","x":4978,"y":1.9},{"s":"m5","x":5014,"y":3.5},{"s":"m5","x":5050,"y":2.3},{"s":"m5","x":5086,"y":4.1},{"s":"m5","x":5122,"y":1.5},{"s":"m5","x":5158,"y":2.9},{"s":"m5","x":5194,"y":3.7},{"s":"m5","x":5230,"y":2.0},{"s":"m5","x":5266,"y":4.4},{"s":"m5","x":5302,"y":1.7},{"s":"m5","x":5338,"y":3.0},{"s":"m5","x":5374,"y":2.6},{"s":"m5","x":5410,"y":4.8},{"s":"m5","x":5446,"y":1.8},{"s":"m5","x":5482,"y":2.1},{"s":"m5","x":5518,"y":3.9},{"s":"m5","x":5554,"y":1.6},
{"s":"m5","x":5590,"y":2.9},{"s":"m5","x":5626,"y":3.7},{"s":"m5","x":5662,"y":2.0},{"s":"m5","x":5698,"y":4.4},{"s":"m5","x":5734,"y":1.7},{"s":"m5","x":5770,"y":3.0},{"s":"m5","x":5806,"y":2.6},{"s":"m5","x":5842,"y":4.8},{"s":"m5","x":5878,"y":1.8},{"s":"m5","x":5914,"y":2.1},{"s":"m5","x":5950,"y":3.9},{"s":"m5","x":5986,"y":1.6},{"s":"m5","x":6022,"y":3.2},{"s":"m5","x":6058,"y":2.5},{"s":"m5","x":6094,"y":4.6},{"s":"m5","x":6130,"y":1.9},{"s":"m5","x":6166,"y":3.5},{"s":"m5","x":6202,"y":2.3},{"s":"m5","x":6238,"y":4.1},{"s":"m5","x":6274,"y":1.5},
{"s":"m5","x":6310,"y":4.6},{"s":"m5","x":6346,"y":1.9},{"s":"m5","x":6382,"y":3.5},{"s":"m5","x":6418,"y":2.3},{"s":"m5","x":6454,"y":4.1},{"s":"m5","x":6490,"y":1.5},{"s":"m5","x":6526,"y":2.9},{"s":"m5","x":6562,"y":3.7},{"s":"m5","x":6598,"y":2.0},{"s":"m5","x":6634,"y":4.4},{"s":"m5","x":6670,"y":1.7},{"s":"m5","x":6706,"y":3.0},{"s":"m5","x":6742,"y":2.6},{"s":"m5","x":6778,"y":4.8},{"s":"m5","x":6814,"y":1.8},{"s":"m5","x":6850,"y":2.1},{"s":"m5","x":6886,"y":3.9},{"s":"m5","x":6922,"y":1.6},{"s":"m5","x":6940,"y":3.2},
{"s":"m6","x":0,"y":2.6e6},{"s":"m6","x":235,"y":9.1e5},{"s":"m6","x":460,"y":4.6e5},{"s":"m6","x":641,"y":3.6e5},{"s":"m6","x":799,"y":5.8e5},{"s":"m6","x":957,"y":1.8e5},{"s":"m6","x":1137,"y":6.5e4},{"s":"m6","x":1363,"y":4.1e4},{"s":"m6","x":1611,"y":5.5e4},{"s":"m6","x":1769,"y":2.3e4},{"s":"m6","x":2040,"y":2.0e4},{"s":"m6","x":2220,"y":1.15e4},{"s":"m6","x":2401,"y":6.5e3},{"s":"m6","x":2581,"y":2.6e3},{"s":"m6","x":2807,"y":2.2e3},{"s":"m6","x":3033,"y":1.8e3},{"s":"m6","x":3123,"y":910},{"s":"m6","x":3303,"y":720},{"s":"m6","x":3484,"y":510},{"s":"m6","x":3665,"y":910},{"s":"m6","x":3822,"y":1.3e3},{"s":"m6","x":3935,"y":650},{"s":"m6","x":4116,"y":575},{"s":"m6","x":4296,"y":230},{"s":"m6","x":4477,"y":72},{"s":"m6","x":4657,"y":58},{"s":"m6","x":4793,"y":18},{"s":"m6","x":4928,"y":9.1},{"s":"m6","x":5064,"y":6.5},{"s":"m6","x":5131,"y":4.1},{"s":"m6","x":5199,"y":2.9},
{"s":"m6","x":5260,"y":1.7},{"s":"m6","x":5330,"y":3.8},{"s":"m6","x":5390,"y":2.3},{"s":"m6","x":5460,"y":4.4},{"s":"m6","x":5520,"y":1.9},{"s":"m6","x":5590,"y":3.2},{"s":"m6","x":5650,"y":2.6},{"s":"m6","x":5710,"y":4.1},{"s":"m6","x":5780,"y":1.6},{"s":"m6","x":5840,"y":3.5},{"s":"m6","x":5910,"y":2.2},{"s":"m6","x":5970,"y":3.9},{"s":"m6","x":6030,"y":1.8},{"s":"m6","x":6100,"y":3.3},{"s":"m6","x":6160,"y":2.5},{"s":"m6","x":6220,"y":4.6},{"s":"m6","x":6290,"y":2.0},{"s":"m6","x":6350,"y":3.6},{"s":"m6","x":6420,"y":1.7},{"s":"m6","x":6480,"y":3.0},{"s":"m6","x":6540,"y":2.4},{"s":"m6","x":6610,"y":4.2},{"s":"m6","x":6670,"y":1.9},{"s":"m6","x":6730,"y":3.4},{"s":"m6","x":6800,"y":2.6},{"s":"m6","x":6860,"y":4.0},{"s":"m6","x":6940,"y":2.1}
]
},
"layer": [
{
"encoding": {
"x": {"field": "x", "type": "quantitative",
 "scale": {"domain": [0, 6940], "nice": false, "zero": false},
 "axis": {"values": [0, 2000, 4000, 6000], "format": "d", "labelFontSize": 35, "labelColor": "#1a1a1a", "labelPadding": 3, "labelFlush": false, "labelOverlap": false, "labelBound": false, "ticks": false, "domainColor": "#444", "domainWidth": 1.5, "grid": true, "gridColor": "#ababab", "gridDash": [2, 4], "gridWidth": 1.2, "title": "function evaluations", "titleFontSize": 36, "titleFontWeight": "normal", "titleColor": "#1a1a1a", "titlePadding": 3}},
"y": {"field": "y", "type": "quantitative",
 "scale": {"type": "log", "domain": [1e-9, 1e7], "nice": false},
 "axis": {"values": [1e-9, 1e-6, 1e-3, 1], "labelExpr": "datum.value > 0.1 ? '10⁰' : datum.value > 1e-4 ? '10⁻³' : datum.value > 1e-7 ? '10⁻⁶' : '10⁻⁹'", "labelFontSize": 35, "labelColor": "#1a1a1a", "labelPadding": 14, "labelFlush": false, "labelOverlap": false, "labelBound": false, "ticks": false, "domainColor": "#555", "domainWidth": 1.5, "grid": true, "gridColor": "#ababab", "gridDash": [2, 4], "gridWidth": 1.2, "title": "distance to optimum", "titleFontSize": 38, "titleFontWeight": "normal", "titleColor": "#1a1a1a", "titleX": -114, "titleY": 292, "titleAngle": 270, "titleBaseline": "top", "titleAlign": "center"}},
"detail": {"field": "s"}
},
"layer": [
{"data": {"name": "blu"}, "mark": {"type": "line", "color": "#3535ff", "strokeWidth": 1.2, "opacity": 0.9, "clip": true}},
{"data": {"name": "blk"}, "mark": {"type": "line", "color": "#111111", "strokeWidth": 2, "clip": true}},
{"data": {"name": "mag"}, "mark": {"type": "line", "color": "#ff00ff", "strokeWidth": 2, "clip": true}}
]
},
{"data": {"values": [{}]}, "mark": {"type": "rule", "color": "#9a9a9a", "strokeWidth": 1.5},
 "encoding": {"x": {"datum": 0, "type": "quantitative", "scale": {"domain": [0, 6940], "nice": false, "zero": false}}, "x2": {"datum": 6940}, "y": {"datum": 1e7, "type": "quantitative", "scale": {"type": "log", "domain": [1e-9, 1e7], "nice": false}}}},
{"data": {"values": [{}]}, "mark": {"type": "text", "align": "left", "baseline": "alphabetic", "font": "Liberation Sans", "fontSize": 30, "color": "#ff00ff", "text": "normalized chain"},
 "encoding": {"x": {"datum": 31, "type": "quantitative", "scale": {"domain": [0, 6940], "nice": false, "zero": false}}, "y": {"datum": 29.5, "type": "quantitative", "scale": {"type": "log", "domain": [1e-9, 1e7], "nice": false}}}},
{"data": {"values": [{}]}, "mark": {"type": "text", "align": "left", "baseline": "alphabetic", "font": "Liberation Sans", "fontSize": 30, "color": "#2020ff", "text": "step−size"},
 "encoding": {"x": {"datum": 1031, "type": "quantitative", "scale": {"domain": [0, 6940], "nice": false, "zero": false}}, "y": {"datum": 5e-7, "type": "quantitative", "scale": {"type": "log", "domain": [1e-9, 1e7], "nice": false}}}},
{"data": {"values": [{}]}, "mark": {"type": "rect", "color": "#000000", "opacity": 0.22, "clip": false},
 "encoding": {"x": {"datum": 2480, "type": "quantitative", "scale": {"domain": [0, 6940], "nice": false, "zero": false}}, "x2": {"datum": 4260}, "y": {"datum": 1.25e5, "type": "quantitative", "scale": {"type": "log", "domain": [1e-9, 1e7], "nice": false}}, "y2": {"datum": 6.5e7}}},
{"data": {"values": [{}]}, "mark": {"type": "rect", "color": "#a9432f", "clip": false},
 "encoding": {"x": {"datum": 2457, "type": "quantitative", "scale": {"domain": [0, 6940], "nice": false, "zero": false}}, "x2": {"datum": 4227}, "y": {"datum": 1.6e5, "type": "quantitative", "scale": {"type": "log", "domain": [1e-9, 1e7], "nice": false}}, "y2": {"datum": 7.7e7}}},
{"data": {"values": [{}]}, "mark": {"type": "text", "align": "center", "baseline": "alphabetic", "font": "Lato", "fontSize": 52, "color": "white", "text": "xNES", "clip": false},
 "encoding": {"x": {"datum": 3342, "type": "quantitative", "scale": {"domain": [0, 6940], "nice": false, "zero": false}}, "y": {"datum": 1e6, "type": "quantitative", "scale": {"type": "log", "domain": [1e-9, 1e7], "nice": false}}}}
]
}
